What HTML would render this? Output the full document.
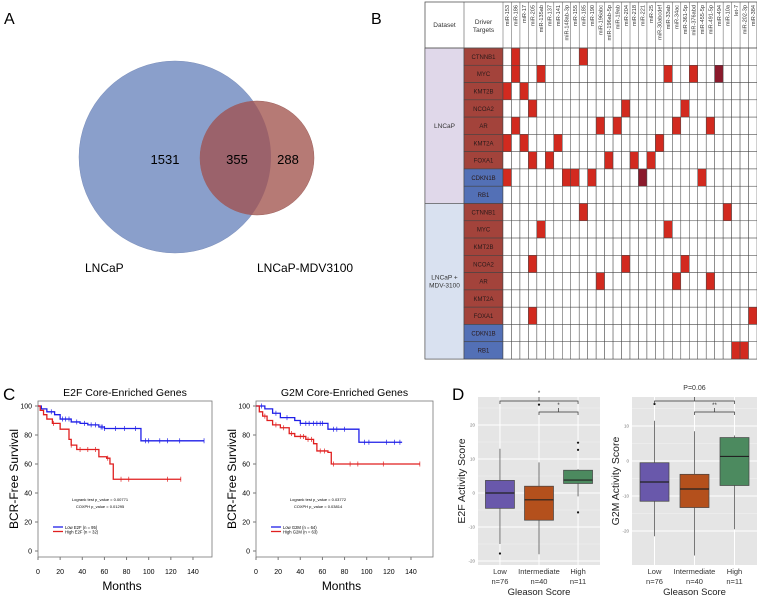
<!DOCTYPE html>
<html><head><meta charset="utf-8"><style>
html,body{margin:0;padding:0;background:#fff}
svg{display:block;font-family:"Liberation Sans",Arial,sans-serif}
</style></head><body>
<svg id="fig" width="757" height="598" viewBox="0 0 757 598" xmlns="http://www.w3.org/2000/svg">
<defs><clipPath id="redclip"><circle cx="257" cy="158" r="57"/></clipPath></defs>
<g>
<text x="4" y="24" font-size="16">A</text>
<circle cx="175" cy="157" r="96" fill="#8a9fcb" stroke="#7d90bb" stroke-width="0.5"/>
<circle cx="257" cy="158" r="57" fill="#b67a75" stroke="#9c5f5b" stroke-width="0.5"/>
<circle cx="175" cy="157" r="96" fill="#9b626b" clip-path="url(#redclip)"/>
<text x="165" y="164" font-size="13" text-anchor="middle">1531</text>
<text x="237" y="164" font-size="13" text-anchor="middle">355</text>
<text x="288" y="164" font-size="13" text-anchor="middle">288</text>
<text x="85" y="272" font-size="12">LNCaP</text>
<text x="257" y="272" font-size="12">LNCaP-MDV3100</text>
<text x="371" y="24" font-size="16">B</text>
</g>
<g id="tbl"></g>
<g id="pc"></g>
<g id="pd"></g>
</svg>
<script>
const NS="http://www.w3.org/2000/svg";
function mk(p,tag,a,txt){const e=document.createElementNS(NS,tag);for(const k in a)e.setAttribute(k,a[k]);if(txt!==undefined)e.textContent=txt;p.appendChild(e);return e;}

/* ---------- Panel B data ---------- */
const mirnas=["miR-153","miR-186","miR-17","miR-205","miR-135ab","miR-137","miR-141","miR-148ab-3p","miR-155","miR-185","miR-190","miR-196abc","miR-196ab-5p","miR-19ab","miR-204","miR-218","miR-221","miR-25","miR-30abcdef","miR-33ab","miR-34ac","miR-361-5p","miR-376abd","miR-455-5p","miR-491-5p","miR-494","miR-10a","let-7","miR-202-3p","miR-384"];
const genes=["CTNNB1","MYC","KMT2B","NCOA2","AR","KMT2A","FOXA1","CDKN1B","RB1"];
const geneType=["onc","onc","onc","onc","onc","onc","onc","sup","sup"];
const hitsLNCaP=[[1,9],[1,4,19,22,25],[0,2],[3,14,21],[1,11,13,20,24],[0,2,6,18],[3,5,12,15,17],[0,7,8,10,16,23],[]];
const darkLNCaP=[[],[25],[],[],[],[],[],[16],[]];
const hitsMDV=[[9,26],[4,19],[],[3,14,21],[11,20,24],[],[3,29],[],[27,28]];
const darkMDV=[[],[],[],[],[],[],[],[],[]];

(function(){
const g=document.getElementById('tbl');
const L=425,T=2,R=757,H=48,rh=(359-48)/18,c1=464,c2=503,cw=(R-c2)/mirnas.length;
mk(g,'rect',{x:L,y:T,width:R-L,height:357,fill:'#fff',stroke:'#555','stroke-width':0.8});
let t=mk(g,'text',{x:(L+c1)/2,y:27,'font-size':6.5,'text-anchor':'middle',fill:'#333'},'Dataset');

t=mk(g,'text',{x:(c1+c2)/2,y:24,'font-size':6.5,'text-anchor':'middle',fill:'#333'},'Driver');

mk(g,'text',{x:(c1+c2)/2,y:32,'font-size':6.5,'text-anchor':'middle',fill:'#333'},'Targets');
const blocks=[{name:'LNCaP',fill:'#e0d8ea',hits:hitsLNCaP,dark:darkLNCaP},{name:'LNCaP + MDV-3100',fill:'#d9e1f0',hits:hitsMDV,dark:darkMDV}];
blocks.forEach((b,bi)=>{
  const y0=H+bi*9*rh;
  const r=mk(g,'rect',{x:L,y:y0,width:c1-L,height:9*rh,fill:b.fill,stroke:'#555','stroke-width':0.6});
  
  if(bi==0){mk(g,'text',{x:(L+c1)/2,y:y0+4.5*rh+2,'font-size':6.5,'text-anchor':'middle',fill:'#333'},'LNCaP');}
  else{mk(g,'text',{x:(L+c1)/2,y:y0+4.5*rh-2,'font-size':6.5,'text-anchor':'middle',fill:'#333'},'LNCaP +');
       mk(g,'text',{x:(L+c1)/2,y:y0+4.5*rh+6,'font-size':6.5,'text-anchor':'middle',fill:'#333'},'MDV-3100');}
  genes.forEach((gn,gi)=>{
    const y=y0+gi*rh;
    const gr=mk(g,'rect',{x:c1,y:y,width:c2-c1,height:rh,fill:geneType[gi]=='onc'?'#a3433b':'#5370b6',stroke:'#444','stroke-width':0.6});
    
    mk(g,'text',{x:(c1+c2)/2,y:y+rh/2+2.3,'font-size':6,'text-anchor':'middle',fill:'#2a1a1a'},gn);
    mirnas.forEach((m,mi)=>{
      let f='#fff';
      if(b.hits[gi].includes(mi))f=b.dark[gi].includes(mi)?'#8b1a2c':'#d22a1f';
      const c=mk(g,'rect',{x:c2+mi*cw,y:y,width:cw,height:rh,fill:f,stroke:'#444','stroke-width':0.5});
      
    });
  });
});
mk(g,'line',{x1:L,y1:H,x2:R,y2:H,stroke:'#555','stroke-width':0.8});
mk(g,'line',{x1:c1,y1:T,x2:c1,y2:H,stroke:'#555','stroke-width':0.6});
mirnas.forEach((m,mi)=>{
  const x=c2+mi*cw;
  mk(g,'line',{x1:x,y1:T,x2:x,y2:H,stroke:'#555','stroke-width':0.5});
  const tx=mk(g,'text',{x:0,y:0,'font-size':5.6,fill:'#333',transform:`translate(${x+cw/2+2},${T+3}) rotate(-90)`,'text-anchor':'end'},m);
  
});
})();

/* ---------- Panel C data ---------- */
const e2fLowT=[0,3,8,15,20,30,38,45,55,60,93,150];
const e2fLowS=[100,98,96,94,91,89,88,87,85.5,84.5,76,76];
const e2fHighT=[0,2,5,8,13,20,28,30,35,55,62,65,68,129];
const e2fHighS=[100,97,94,91,88,84,77,73,70,65,64,60,49.5,49.5];
const e2fLowCens=[12,22,25,28,35,42,48,52,57,58,60,70,78,88,97,100,110,117,128,150];
const e2fHighCens=[14,30,38,45,52,63,75,82,117,129];
const g2mLowT=[0,8,15,22,35,40,65,93,132];
const g2mLowS=[100,98,95,92,90,88,84,75,75];
const g2mHighT=[0,3,6,10,15,22,30,35,45,52,55,65,68,148];
const g2mHighS=[100,96,93,90,87,85,81,79,77,74,69,68,60,60];
const g2mLowCens=[5,18,28,40,45,48,52,55,58,60,70,73,80,98,102,118,125,130];
const g2mHighCens=[8,18,25,32,40,43,47,50,58,62,70,85,92,115,148];
const xTicksC=[0,20,40,60,80,100,120,140];
const yTicksC=[0,20,40,60,80,100];

(function(){
const g=document.getElementById('pc');
mk(g,'text',{x:3,y:400,'font-size':17},'C');
function km(ox,boxR,title,lowT,lowS,highT,highS,lowC,highC,p1,p2,l1,l2,nm){
  const sx=v=>ox+v*1.107, sy=v=>551-v*1.45;
  const gg=mk(g,'g',{});
  
  mk(gg,'text',{x:(ox+boxR)/2,y:396,'font-size':10.5,'text-anchor':'middle'},title);
  mk(gg,'rect',{x:ox,y:401,width:boxR-ox,height:156,fill:'none',stroke:'#777','stroke-width':0.8});
  xTicksC.forEach(v=>{mk(gg,'line',{x1:sx(v),y1:557,x2:sx(v),y2:560,stroke:'#777'});
    mk(gg,'text',{x:sx(v),y:574,'font-size':7,'text-anchor':'middle'},v);});
  yTicksC.forEach(v=>{mk(gg,'line',{x1:ox-3,y1:sy(v),x2:ox,y2:sy(v),stroke:'#777'});
    mk(gg,'text',{x:ox-6,y:sy(v)+2.5,'font-size':7,'text-anchor':'end'},v);});
  const yl=mk(gg,'text',{x:0,y:0,'font-size':12,'text-anchor':'middle',transform:`translate(${ox-20},479) rotate(-90)`},'BCR-Free Survival');
  
  const xl=mk(gg,'text',{x:(ox+boxR)/2-3,y:590,'font-size':12,'text-anchor':'middle'},'Months');
  
  function curve(T,S,C,col,n){
    let d=`M${sx(T[0])},${sy(S[0])}`;
    for(let i=1;i<T.length;i++){d+=` H${sx(T[i])} V${sy(S[i])}`;}
    const p=mk(gg,'path',{d:d,fill:'none',stroke:col,'stroke-width':1.3});
    
    C.forEach(c=>{let s=S[0];for(let i=0;i<T.length;i++)if(T[i]<=c)s=S[i];
      mk(gg,'line',{x1:sx(c),y1:sy(s)-2.5,x2:sx(c),y2:sy(s)+2.5,stroke:col,'stroke-width':0.7});});
  }
  curve(lowT,lowS,lowC,'#1f1fe8',nm+'-low-curve');
  curve(highT,highS,highC,'#e01f1f',nm+'-high-curve');
  const cx=ox+62;
  mk(gg,'text',{x:cx,y:501,'font-size':4,'text-anchor':'middle'},p1);
  mk(gg,'text',{x:cx,y:508,'font-size':4,'text-anchor':'middle'},p2);
  mk(gg,'line',{x1:ox+15,y1:527,x2:ox+25,y2:527,stroke:'#1f1fe8','stroke-width':1.3});
  mk(gg,'line',{x1:ox+15,y1:531.5,x2:ox+25,y2:531.5,stroke:'#e01f1f','stroke-width':1.3});
  mk(gg,'text',{x:ox+27,y:529,'font-size':4.2},l1);
  mk(gg,'text',{x:ox+27,y:533.5,'font-size':4.2},l2);
}
km(38,212,'E2F Core-Enriched Genes',e2fLowT,e2fLowS,e2fHighT,e2fHighS,e2fLowCens,e2fHighCens,'Logrank test p_value = 0.00771','COXPH p_value = 0.01295','Low E2F (n = 95)','High E2F (n = 32)','e2f-km-plot');
km(256,433,'G2M Core-Enriched Genes',g2mLowT,g2mLowS,g2mHighT,g2mHighS,g2mLowCens,g2mHighCens,'Logrank test p_value = 0.03772','COXPH p_value = 0.03814','Low G2M (n = 64)','High G2M (n = 63)','g2m-km-plot');
})();

/* ---------- Panel D data ---------- */
const groups=["Low","Intermediate","High"];
const groupN=["n=76","n=40","n=11"];
const e2fQ1=[-4.5,-8,2.8], e2fMed=[0,-2,3.8], e2fQ3=[3.7,2,6.7], e2fLo=[-15,-18,-1], e2fHi=[13,9,7];
const e2fOut=[[-17.8],[26],[14.8,12.7,-5.7]];
const g2mQ1=[-11.5,-13.3,-7], g2mMed=[-6,-8,1.3], g2mQ3=[-0.5,-3.8,6.7], g2mLo=[-21.5,-27,-19.5], g2mHi=[11.5,8.5,7.3];
const g2mOut=[[16.5],[],[]];
const e2fTicks=[-20,-10,0,10,20];
const g2mTicks=[-20,-10,0,10];
const boxCols=["#6958ab","#b4501c","#4c8a5f"];

(function(){
const g=document.getElementById('pd');
mk(g,'text',{x:452,y:400,'font-size':17},'D');
function bp(L,R,zero,ppu,ticks,q1,med,q3,lo,hi,out,ylab,nm,sig){
  const gg=mk(g,'g',{});
  const sy=v=>zero-v*ppu, top=397,bot=565;
  const cx=i=>L+(R-L)*(i+0.5)/3*0.96+ (R-L)*0.02;
  mk(gg,'rect',{x:L,y:top,width:R-L,height:bot-top,fill:'#e5e5e5'});
  for(let i=0;i<ticks.length;i++){
    mk(gg,'line',{x1:L,x2:R,y1:sy(ticks[i]+5),y2:sy(ticks[i]+5),stroke:'#f2f2f2','stroke-width':0.5});
    mk(gg,'line',{x1:L,x2:R,y1:sy(ticks[i]),y2:sy(ticks[i]),stroke:'#fff','stroke-width':1});
    mk(gg,'text',{x:L-3,y:sy(ticks[i])+1.5,'font-size':4.5,'text-anchor':'end',fill:'#777'},ticks[i]);
  }
  groups.forEach((gr,i)=>{
    const x=cx(i);
    mk(gg,'line',{x1:x,x2:x,y1:top,y2:bot,stroke:'#fff','stroke-width':1});
  });
  groups.forEach((gr,i)=>{
    const x=cx(i),w=29;
    mk(gg,'line',{x1:x,x2:x,y1:sy(hi[i]),y2:sy(lo[i]),stroke:'#555','stroke-width':0.8});
    const b=mk(gg,'rect',{x:x-w/2,y:sy(q3[i]),width:w,height:sy(q1[i])-sy(q3[i]),fill:boxCols[i],stroke:'#444','stroke-width':0.7});
    
    mk(gg,'line',{x1:x-w/2,x2:x+w/2,y1:sy(med[i]),y2:sy(med[i]),stroke:'#222','stroke-width':1.2});
    out[i].forEach(o=>{const y=sy(o);if(y>top-2)mk(gg,'circle',{cx:x,cy:Math.max(y,top+7),r:1.1,fill:'#111'});});
    mk(gg,'text',{x:x,y:574,'font-size':7.5,'text-anchor':'middle',fill:'#333'},gr);
    mk(gg,'text',{x:x,y:584,'font-size':7.5,'text-anchor':'middle',fill:'#333'},groupN[i]);
  });
  const xt=mk(gg,'text',{x:(L+R)/2,y:595,'font-size':9.5,'text-anchor':'middle',fill:'#222'},'Gleason Score');
  
  const yt=mk(gg,'text',{x:0,y:0,'font-size':10.5,'text-anchor':'middle',fill:'#222',transform:`translate(${L-13},${(top+bot)/2}) rotate(-90)`},ylab);
  
  const a=cx(0),b2=cx(1),c=cx(2);
  mk(gg,'path',{d:`M${a},404 V401 H${c} V404 M${(a+c)/2},401 V397`,fill:'none',stroke:'#333','stroke-width':0.7});
  mk(gg,'path',{d:`M${b2},415 V412 H${c} V415 M${(b2+c)/2},412 V408`,fill:'none',stroke:'#333','stroke-width':0.7});
  mk(gg,'text',{x:(a+c)/2,y:sig[2]?390:395,'font-size':sig[2]?7:6,'text-anchor':'middle',fill:'#333'},sig[0]);
  mk(gg,'text',{x:(b2+c)/2,y:407,'font-size':6,'text-anchor':'middle',fill:'#333'},sig[1]);
}
bp(478,600,493,3.4,e2fTicks,e2fQ1,e2fMed,e2fQ3,e2fLo,e2fHi,e2fOut,'E2F Activity Score','e2f-boxplot',['*','*',false]);
bp(632,757,461,3.5,g2mTicks,g2mQ1,g2mMed,g2mQ3,g2mLo,g2mHi,g2mOut,'G2M Activity Score','g2m-boxplot',['P=0.06','**',true]);
})();
</script>
</body></html>
